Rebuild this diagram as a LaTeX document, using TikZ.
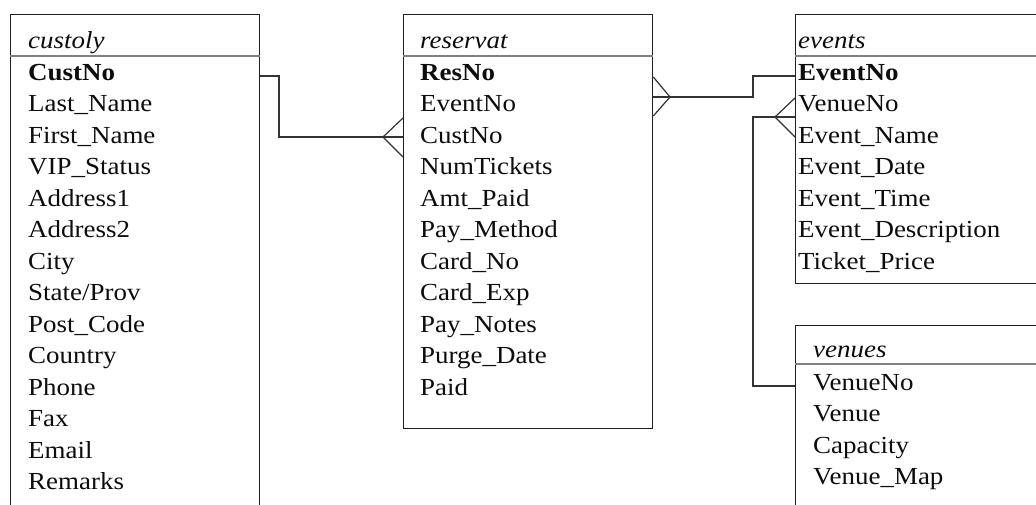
\documentclass[tikz,border=0pt]{standalone}
\usepackage{fontspec}
\setmainfont{Liberation Serif}[FakeStretch=1.1]
\begin{document}
\begin{tikzpicture}[x=1pt,y=-1pt,
  tbl/.style={draw=black!88, line width=1.3pt, inner sep=0pt, anchor=north west, fill=white},
  hdr/.style={draw=black!50, line width=1.2pt},
  fld/.style={anchor=base west, inner sep=0pt, text=black!95, font=\fontsize{24.5}{27}\selectfont},
  ttl/.style={fld, font=\fontsize{24.5}{27}\selectfont\itshape},
  key/.style={fld, font=\fontsize{24.5}{27}\selectfont\bfseries},
  conn/.style={draw=black!80, line width=1.2pt}]
\useasboundingbox (0,0) rectangle (1036,504);
\clip (0,0) rectangle (1036,504);
\fill[white] (0,0) rectangle (1036,504);
% boxes
\node[tbl, minimum width=249pt, minimum height=520pt] (cust) at (10,14) {};
\node[tbl, minimum width=249pt, minimum height=414pt] (res) at (403,14) {};
\node[tbl, minimum width=260pt, minimum height=269pt] (ev) at (795,14) {};
\node[tbl, minimum width=260pt, minimum height=200pt] (ven) at (795,325) {};
% header separators
\draw[hdr] (cust.west |- 0,56) -- (cust.east |- 0,56);
\draw[hdr] (res.west |- 0,56) -- (res.east |- 0,56);
\draw[hdr] (ev.west |- 0,56) -- (ev.east |- 0,56);
\draw[hdr] (ven.west |- 0,364) -- (ven.east |- 0,364);
% custoly
\node[ttl] (cu-h) at (28,48) {custoly};
\node[key] (cu0) at (28,80) {CustNo};
\foreach \t [count=\i] in {Last\_Name,First\_Name,VIP\_Status,Address1,Address2,City,State/Prov,Post\_Code,Country,Phone,Fax,Email,Remarks}
  \node[fld] (cu\i) at (28,80+31.5*\i) {\t};
% reservat
\node[ttl] (re-h) at (420,48) {reservat};
\node[key] (re0) at (420,80) {ResNo};
\foreach \t [count=\i] in {EventNo,CustNo,NumTickets,Amt\_Paid,Pay\_Method,Card\_No,Card\_Exp,Pay\_Notes,Purge\_Date,Paid}
  \node[fld] (re\i) at (420,80+31.5*\i) {\t};
% events
\node[ttl] (ev-h) at (798,48) {events};
\node[key] (ev0) at (798,80) {EventNo};
\foreach \t [count=\i] in {VenueNo,Event\_Name,Event\_Date,Event\_Time,Event\_Description,Ticket\_Price}
  \node[fld] (ev\i) at (798,80+31.5*\i) {\t};
% venues
\node[ttl] (ve-h) at (813,357) {venues};
\node[fld] (ve0) at (813,390) {VenueNo};
\foreach \t [count=\i] in {Venue,Capacity,Venue\_Map}
  \node[fld] (ve\i) at (813,390+31.5*\i) {\t};
% connector custoly -> reservat
\coordinate (b1) at (279,76);
\coordinate (b2) at (279,137);
\draw[conn] (cust.east |- b1) -- (b1) -- (b2) -- (res.west |- b2);
\draw[conn] (res.west |- 0,118) -- (383,137) -- (res.west |- 0,157);
% connector reservat -> events
\coordinate (b3) at (753,97);
\coordinate (b4) at (753,76);
\draw[conn] (res.east |- b3) -- (b3) -- (b4) -- (ev.west |- b4);
\draw[conn] (res.east |- 0,77) -- (670,97) -- (res.east |- 0,116);
% connector events -> venues
\coordinate (b5) at (753,117);
\coordinate (b6) at (753,386);
\draw[conn] (ev.west |- b5) -- (b5) -- (b6) -- (ven.west |- b6);
\draw[conn] (ev.west |- 0,98) -- (775,117) -- (ev.west |- 0,137);
\end{tikzpicture}
\end{document}
